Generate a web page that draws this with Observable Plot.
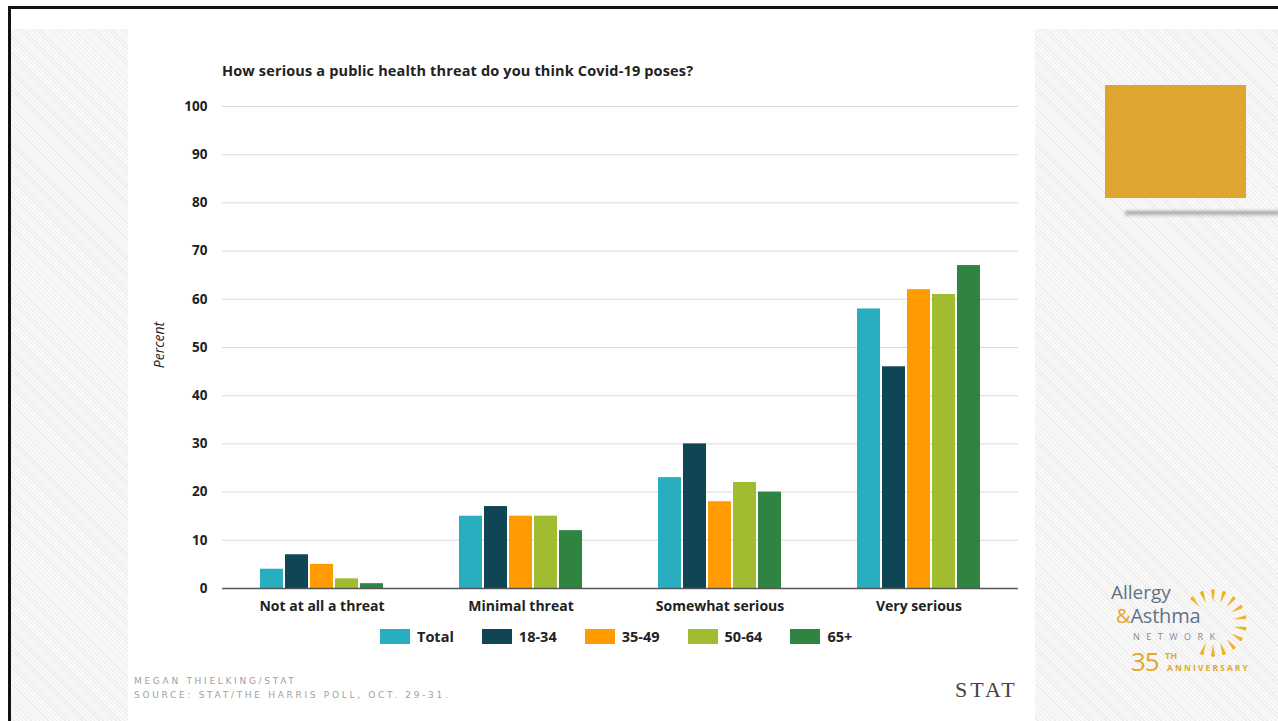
<!DOCTYPE html>
<html><head><meta charset="utf-8">
<script src="https://cdn.jsdelivr.net/npm/d3@7"></script>
<script src="https://cdn.jsdelivr.net/npm/@observablehq/plot@0.6"></script>
<style>
html,body{margin:0;padding:0;width:1278px;height:721px;overflow:hidden;background:#fff;font-family:"Open Sans",sans-serif;}
.abs{position:absolute;}
.hatch{background:repeating-linear-gradient(45deg,#f9f9f9 0 2px,#ececec 2px 3px);}
#legend{display:flex;align-items:center;gap:28px;font-weight:bold;font-size:14.5px;color:#222;}
#legend .item{display:flex;align-items:center;}
#legend .sw{width:30px;height:15px;margin-right:7px;}
.cap{color:#a0a0a0;font-family:"DejaVu Sans",sans-serif;font-size:9px;letter-spacing:2.7px;line-height:14px;}
.logo{font-family:'Open Sans',sans-serif;}
</style></head><body>
<div class="abs" style="left:8px;top:6px;width:1300px;height:800px;border-top:3px solid #111;border-left:3px solid #111;"></div>
<div class="abs hatch" style="left:11px;top:29px;width:117px;height:692px"></div>
<div class="abs hatch" style="left:1035px;top:29px;width:243px;height:692px"></div>
<div class="abs" style="left:128px;top:29px;width:907px;height:692px;background:#fff"></div>

<div class="abs" style="left:1105px;top:85px;width:141px;height:113px;background:#e0a52f"></div>
<div class="abs" style="left:1125px;top:211px;width:160px;height:6px;background:linear-gradient(#8a8a8a,rgba(200,200,200,0));filter:blur(1.5px)"></div>

<div class="abs" id="title" style="left:222px;top:61px;font-weight:bold;font-size:14.5px;letter-spacing:0.15px;color:#222">How serious a public health threat do you think Covid-19 poses?</div>
<div class="abs" id="ylabel" style="left:158px;top:345px;transform:translate(-50%,-50%) rotate(-90deg);font-style:italic;font-size:14px;color:#222;white-space:nowrap">Percent</div>
<div class="abs" id="chart" style="left:128px;top:90px"></div>
<div class="abs" id="legend" style="left:380px;top:627px"></div>

<div class="abs cap" style="left:134px;top:674px">MEGAN THIELKING/STAT<br>SOURCE: STAT/THE HARRIS POLL, OCT. 29-31.</div>
<div class="abs" style="left:955px;top:677px;font-family:'Liberation Serif',serif;font-size:22px;letter-spacing:3px;color:#444">STAT</div>

<svg class="abs" id="sun" style="left:1180px;top:580px" width="80" height="90"></svg>
<div class="abs logo" style="left:1111px;top:583px;font-size:19px;color:#5f7384;line-height:19px">Allergy</div>
<div class="abs logo" style="left:1116px;top:606px;font-size:20px;color:#5f7384;line-height:19px;letter-spacing:-0.2px"><span style="color:#eaa62a">&amp;</span>Asthma</div>
<div class="abs logo" style="left:1133px;top:632px;font-size:9px;color:#7b8b97;letter-spacing:6.5px;line-height:10px">NETWORK</div>
<div class="abs logo" style="left:1131px;top:648px;font-size:26px;color:#e3a82c;line-height:26px;letter-spacing:-1px">35</div>
<div class="abs logo" style="left:1165px;top:650px;font-size:9px;font-weight:bold;color:#e3a82c;line-height:11px">TH</div>
<div class="abs logo" style="left:1167px;top:663px;font-size:8.5px;font-weight:bold;color:#e3a82c;letter-spacing:2.1px;line-height:10px">ANNIVERSARY</div>

<script>
const categories = ["Not at all a threat", "Minimal threat", "Somewhat serious", "Very serious"];
const groups = ["Total", "18-34", "35-49", "50-64", "65+"];
const colors = ["#29aebf", "#0f4554", "#ff9a00", "#a2bc30", "#2f8442"];
const total    = [4, 15, 23, 58];
const age18_34 = [7, 17, 30, 46];
const age35_49 = [5, 15, 18, 62];
const age50_64 = [2, 15, 22, 61];
const age65up  = [1, 12, 20, 67];
const yTicks = [0, 10, 20, 30, 40, 50, 60, 70, 80, 90, 100];

const series = [total, age18_34, age35_49, age50_64, age65up];
const data = categories.flatMap((c, i) => groups.map((g, j) => ({category: c, group: g, value: series[j][i]})));

const chart = Plot.plot({
  width: 907, height: 528,
  marginLeft: 94, marginRight: 17, marginTop: 16, marginBottom: 30,
  style: {fontFamily: "'Open Sans', sans-serif", fontSize: "13px", fontWeight: "bold", color: "#222", background: "transparent"},
  fx: {domain: categories, padding: 0, label: null},
  x: {domain: groups, paddingInner: 0.08, paddingOuter: 1.46, axis: null},
  y: {domain: [0, 100], label: null},
  color: {domain: groups, range: colors},
  marks: [
    Plot.gridY(yTicks.filter(d => d > 0), {stroke: "#dadada", strokeOpacity: 1}),
    Plot.barY(data, {fx: "category", x: "group", y: "value", fill: "group"}),
    Plot.ruleY([0], {stroke: "#555", strokeWidth: 1.5}),
    Plot.axisY(yTicks, {tickSize: 0, tickPadding: 15, label: null, fontSize: 13.5}),
    Plot.axisFx({anchor: "bottom", tickSize: 0, tickPadding: 13, label: null, fontSize: 14})
  ]
});
document.getElementById("chart").appendChild(chart);

const legend = document.getElementById("legend");
groups.forEach((g, i) => {
  const item = document.createElement("div");
  item.className = "item";
  item.innerHTML = `<div class="sw" style="background:${colors[i]}"></div><span>${g}</span>`;
  legend.appendChild(item);
});

// decorative sun rays of the logo
const sun = d3.select("#sun");
const cx = 33, cy = 43;
d3.range(-40, 201, 20).forEach(a => {
  const r = a * Math.PI / 180;
  const r1 = 21, r2 = 33;
  const ux = Math.sin(r), uy = -Math.cos(r), px = -uy, py = ux;
  const w = 2;
  const p = [
    [cx + r1 * ux, cy + r1 * uy],
    [cx + r2 * ux + w * px, cy + r2 * uy + w * py],
    [cx + (r2 + 1) * ux, cy + (r2 + 1) * uy],
    [cx + r2 * ux - w * px, cy + r2 * uy - w * py]
  ];
  sun.append("path").attr("d", "M" + p.join("L") + "Z").attr("fill", "#efb425");
});
</script>
</body></html>
